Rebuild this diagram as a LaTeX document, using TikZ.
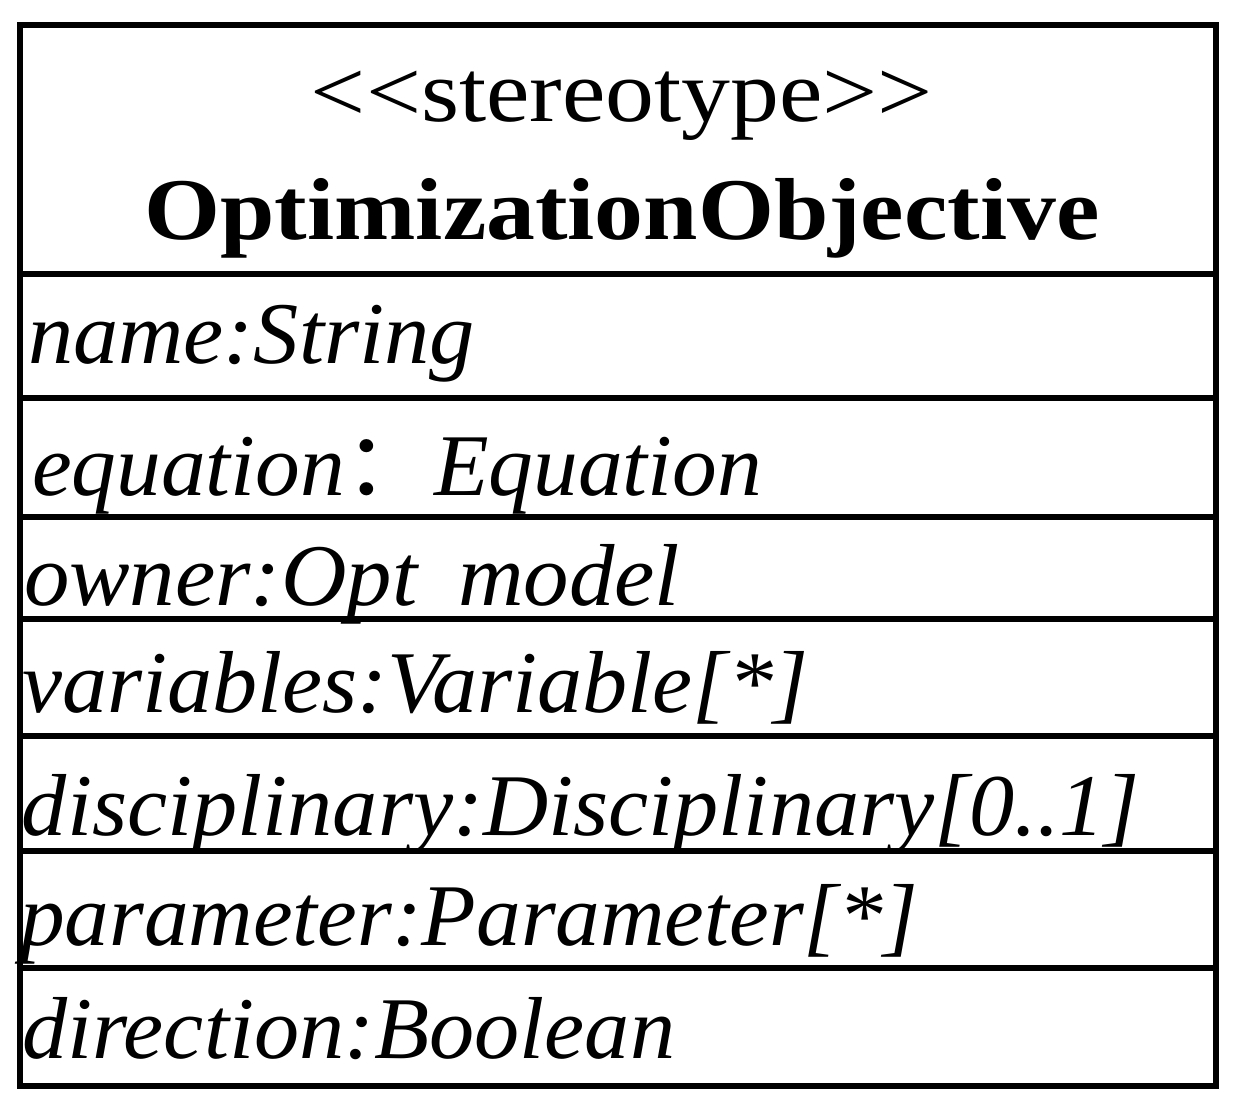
\documentclass[tikz,border=0pt]{standalone}
\usepackage{fontspec}
\setmainfont[Ligatures=NoCommon]{Liberation Serif}
\newfontfamily\cjk{Noto Sans CJK SC}
\usepackage{graphicx}
\newsavebox\fitbox
\newcommand\fitto[2]{\sbox\fitbox{#2}\resizebox{#1}{\ht\fitbox}{\usebox\fitbox}}
\tikzset{
  frame/.style={line width=6pt, line cap=rect, line join=miter},
  attr/.style={anchor=base west, inner sep=0pt, outer sep=0pt, font=\fontsize{88}{100}\selectfont\itshape},
  head/.style={anchor=base, inner sep=0pt, outer sep=0pt, font=\fontsize{88}{100}\selectfont},
}
\begin{document}
\begin{tikzpicture}[x=1pt,y=-1pt]
\useasboundingbox (0,0) rectangle (1239,1110);
% outer frame and separators
\draw[frame] (20,25) rectangle (1216,1086);
\foreach \yy in {274,398,517,619,736,851,968}
  \draw[frame] (20,\yy) -- (1216,\yy);
% header
\node[head] (stereo) at (622,122) {\fitto{622pt}{\char"3C\kern0pt\char"3C stereotype\char"3E\kern0pt\char"3E}};
\node[head, font=\fontsize{88}{100}\selectfont\bfseries] (title) at (622,239) {\fitto{955pt}{OptimizationObjective}};
% attributes
\node[attr] (a1) at (28,363) {\fitto{447pt}{name:String}};
\node[attr] (a2) at (32,495) {\fitto{730pt}{equation{\upshape\cjk ：}Equation}};
\node[attr] (a3) at (24,605) {\fitto{656pt}{owner:Opt\hspace{0.45em}model}};
\node[attr] (a4) at (22,712) {\fitto{786pt}{variables:Variable[*]}};
\node[attr] (a5) at (22,835) {\fitto{1118pt}{disciplinary:Disciplinary[0..1]}};
\node[attr] (a6) at (20,945) {\fitto{898pt}{parameter:Parameter[*]}};
\node[attr] (a7) at (22,1058) {\fitto{653pt}{direction:Boolean}};
\end{tikzpicture}
\end{document}
